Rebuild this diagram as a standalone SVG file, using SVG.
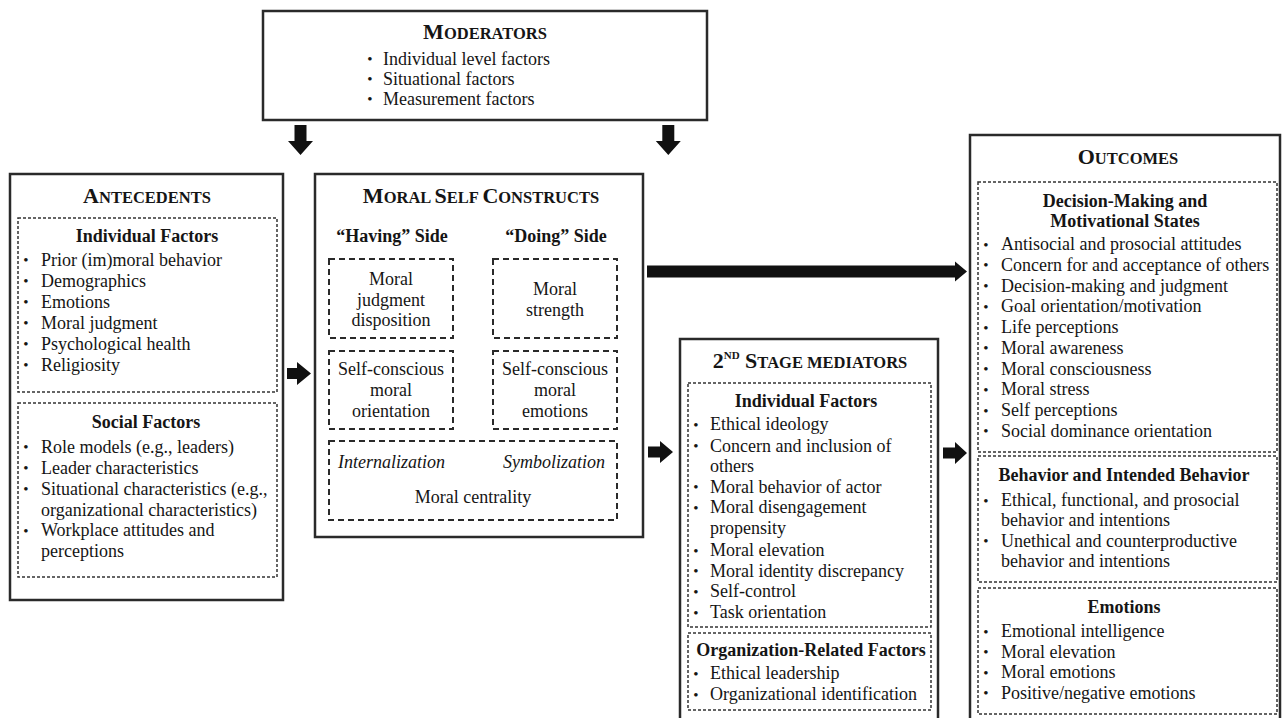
<svg xmlns="http://www.w3.org/2000/svg" width="1282" height="718" viewBox="0 0 1282 718">
<style>
  text { font-family: "Liberation Serif", "Times New Roman", serif; fill: #151515; }
  .t { font-size: 18px; }
  .b { font-size: 18px; font-weight: bold; }
  .i { font-size: 18px; font-style: italic; }
  .c { text-anchor: middle; }
  .cap1 { font-size: 22px; font-weight: bold; }
  .cap2 { font-size: 16.5px; font-weight: bold; }
  .bul { font-size: 15px; text-anchor: middle; }
  .box { fill: #fff; stroke: #2a2a2a; stroke-width: 2.5; }
  .dash { fill: none; stroke: #333; stroke-width: 1.5; stroke-dasharray: 3 2; }
  .dash2 { fill: none; stroke: #2a2a2a; stroke-width: 2; stroke-dasharray: 6 4; }
  .arr { fill: #111; stroke: none; }
</style>

<g id="moderators">
  <rect class="box" x="263" y="11" width="444" height="109"/>
  <text class="c" x="485" y="39"><tspan class="cap1">M</tspan><tspan class="cap2">ODERATORS</tspan></text>
  <text class="bul" x="370" y="64">•</text><text class="t" x="383" y="65">Individual level factors</text>
  <text class="bul" x="370" y="84">•</text><text class="t" x="383" y="85">Situational factors</text>
  <text class="bul" x="370" y="104">•</text><text class="t" x="383" y="105">Measurement factors</text>
</g>

<g id="antecedents">
  <rect class="box" x="10" y="174" width="273" height="426"/>
  <text class="c" x="147" y="203"><tspan class="cap1">A</tspan><tspan class="cap2">NTECEDENTS</tspan></text>
  <rect class="dash" x="18" y="218" width="259" height="174"/>
  <text class="b c" x="147" y="242">Individual Factors</text>
  <text class="bul" x="26" y="265">•</text><text class="t" x="41" y="265.5">Prior (im)moral behavior</text>
  <text class="bul" x="26" y="286">•</text><text class="t" x="41" y="286.5">Demographics</text>
  <text class="bul" x="26" y="307">•</text><text class="t" x="41" y="307.5">Emotions</text>
  <text class="bul" x="26" y="328">•</text><text class="t" x="41" y="328.5">Moral judgment</text>
  <text class="bul" x="26" y="349">•</text><text class="t" x="41" y="349.5">Psychological health</text>
  <text class="bul" x="26" y="370">•</text><text class="t" x="41" y="370.5">Religiosity</text>
  <rect class="dash" x="18" y="403" width="259" height="174"/>
  <text class="b c" x="146" y="428">Social Factors</text>
  <text class="bul" x="26" y="452">•</text><text class="t" x="41" y="452.5">Role models (e.g., leaders)</text>
  <text class="bul" x="26" y="473">•</text><text class="t" x="41" y="473.5">Leader characteristics</text>
  <text class="bul" x="26" y="494">•</text><text class="t" x="41" y="494.5">Situational characteristics (e.g.,</text>
  <text class="t" x="41" y="515.5">organizational characteristics)</text>
  <text class="bul" x="26" y="535.5">•</text><text class="t" x="41" y="536">Workplace attitudes and</text>
  <text class="t" x="41" y="557">perceptions</text>
</g>

<g id="moral-self-constructs">
  <rect class="box" x="315" y="174" width="328" height="363"/>
  <text class="c" x="481" y="203"><tspan class="cap1">M</tspan><tspan class="cap2">ORAL </tspan><tspan class="cap1">S</tspan><tspan class="cap2">ELF </tspan><tspan class="cap1">C</tspan><tspan class="cap2">ONSTRUCTS</tspan></text>
  <text class="b c" x="392" y="242">“Having” Side</text>
  <text class="b c" x="556" y="242">“Doing” Side</text>
  <rect class="dash2" x="329" y="259" width="124" height="79"/>
  <text class="t c" x="391" y="285">Moral</text>
  <text class="t c" x="391" y="305.5">judgment</text>
  <text class="t c" x="391" y="326">disposition</text>
  <rect class="dash2" x="493" y="259" width="124" height="79"/>
  <text class="t c" x="555" y="295">Moral</text>
  <text class="t c" x="555" y="316">strength</text>
  <rect class="dash2" x="329" y="351" width="124" height="78"/>
  <text class="t c" x="391" y="375">Self-conscious</text>
  <text class="t c" x="391" y="396">moral</text>
  <text class="t c" x="391" y="416.5">orientation</text>
  <rect class="dash2" x="493" y="351" width="124" height="78"/>
  <text class="t c" x="555" y="375">Self-conscious</text>
  <text class="t c" x="555" y="396">moral</text>
  <text class="t c" x="555" y="416.5">emotions</text>
  <rect class="dash2" x="329" y="441" width="288" height="79"/>
  <text class="i" x="338" y="468">Internalization</text>
  <text class="i" x="605" y="468" text-anchor="end">Symbolization</text>
  <text class="t c" x="473" y="503">Moral centrality</text>
</g>

<g id="second-stage-mediators">
  <rect class="box" x="680" y="339" width="258" height="400"/>
  <text class="c" x="810" y="368"><tspan class="cap1">2</tspan><tspan font-size="11" font-weight="bold" dy="-9">ND</tspan><tspan class="cap1" dy="9"> S</tspan><tspan class="cap2">TAGE MEDIATORS</tspan></text>
  <rect class="dash" x="688" y="383" width="243" height="244"/>
  <text class="b c" x="806" y="407">Individual Factors</text>
  <text class="bul" x="696" y="429.5">•</text><text class="t" x="710" y="430">Ethical ideology</text>
  <text class="bul" x="696" y="451">•</text><text class="t" x="710" y="451.5">Concern and inclusion of</text>
  <text class="t" x="710" y="472">others</text>
  <text class="bul" x="696" y="492.2">•</text><text class="t" x="710" y="492.7">Moral behavior of actor</text>
  <text class="bul" x="696" y="512.5">•</text><text class="t" x="710" y="513">Moral disengagement</text>
  <text class="t" x="710" y="533.5">propensity</text>
  <text class="bul" x="696" y="555.5">•</text><text class="t" x="710" y="556">Moral elevation</text>
  <text class="bul" x="696" y="576.2">•</text><text class="t" x="710" y="576.7">Moral identity discrepancy</text>
  <text class="bul" x="696" y="596.5">•</text><text class="t" x="710" y="597">Self-control</text>
  <text class="bul" x="696" y="617.5">•</text><text class="t" x="710" y="618">Task orientation</text>
  <rect class="dash" x="688" y="633" width="243" height="77"/>
  <text class="b c" x="811" y="656">Organization-Related Factors</text>
  <text class="bul" x="696" y="678.5">•</text><text class="t" x="710" y="679">Ethical leadership</text>
  <text class="bul" x="696" y="699.5">•</text><text class="t" x="710" y="700">Organizational identification</text>
</g>

<g id="outcomes">
  <rect class="box" x="970" y="135" width="310" height="600"/>
  <text class="c" x="1128" y="163.5"><tspan class="cap1">O</tspan><tspan class="cap2">UTCOMES</tspan></text>
  <rect class="dash" x="978" y="182" width="299" height="270"/>
  <text class="b c" x="1125" y="206.5">Decision-Making and</text>
  <text class="b c" x="1125" y="227">Motivational States</text>
  <text class="bul" x="986" y="249.5">•</text><text class="t" x="1001" y="250">Antisocial and prosocial attitudes</text>
  <text class="bul" x="986" y="270.3">•</text><text class="t" x="1001" y="270.8">Concern for and acceptance of others</text>
  <text class="bul" x="986" y="291">•</text><text class="t" x="1001" y="291.5">Decision-making and judgment</text>
  <text class="bul" x="986" y="311.7">•</text><text class="t" x="1001" y="312.2">Goal orientation/motivation</text>
  <text class="bul" x="986" y="332.5">•</text><text class="t" x="1001" y="333">Life perceptions</text>
  <text class="bul" x="986" y="353.2">•</text><text class="t" x="1001" y="353.7">Moral awareness</text>
  <text class="bul" x="986" y="374">•</text><text class="t" x="1001" y="374.5">Moral consciousness</text>
  <text class="bul" x="986" y="394.7">•</text><text class="t" x="1001" y="395.2">Moral stress</text>
  <text class="bul" x="986" y="415.5">•</text><text class="t" x="1001" y="416">Self perceptions</text>
  <text class="bul" x="986" y="436.2">•</text><text class="t" x="1001" y="436.7">Social dominance orientation</text>
  <rect class="dash" x="978" y="456" width="299" height="126"/>
  <text class="b c" x="1124" y="480.5">Behavior and Intended Behavior</text>
  <text class="bul" x="986" y="505.5">•</text><text class="t" x="1001" y="506">Ethical, functional, and prosocial</text>
  <text class="t" x="1001" y="526.3">behavior and intentions</text>
  <text class="bul" x="986" y="546">•</text><text class="t" x="1001" y="546.5">Unethical and counterproductive</text>
  <text class="t" x="1001" y="566.7">behavior and intentions</text>
  <rect class="dash" x="978" y="588" width="299" height="126"/>
  <text class="b c" x="1124" y="613">Emotions</text>
  <text class="bul" x="986" y="636.5">•</text><text class="t" x="1001" y="637">Emotional intelligence</text>
  <text class="bul" x="986" y="657">•</text><text class="t" x="1001" y="657.5">Moral elevation</text>
  <text class="bul" x="986" y="677.5">•</text><text class="t" x="1001" y="678">Moral emotions</text>
  <text class="bul" x="986" y="698">•</text><text class="t" x="1001" y="698.5">Positive/negative emotions</text>
</g>

<g id="connectors">
  <polygon class="arr" points="294.5,125 306.5,125 306.5,141 313,141 300.5,155 288,141 294.5,141"/>
  <polygon class="arr" points="662.3,125 674.3,125 674.3,141 680.8,141 668.3,155 655.8,141 662.3,141"/>
  <polygon class="arr" points="287,368 297,368 297,362 311,373.5 297,385 297,379 287,379"/>
  <polygon class="arr" points="647,265.5 955,265.5 955,261.5 967,271.5 955,281.5 955,277.5 647,277.5"/>
  <polygon class="arr" points="648,446.5 660,446.5 660,441 673,452 660,463 660,457.5 648,457.5"/>
  <polygon class="arr" points="943,447.5 955,447.5 955,442 967,453 955,464 955,458.5 943,458.5"/>
</g>
</svg>
